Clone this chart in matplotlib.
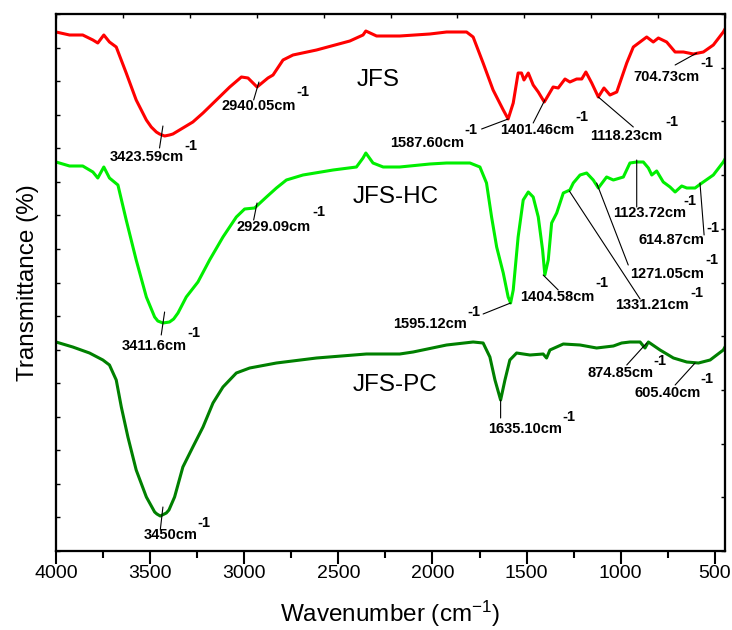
import matplotlib
matplotlib.use("Agg")
import matplotlib.pyplot as plt
import numpy as np

plt.rcParams['font.family'] = ['Liberation Sans', 'DejaVu Sans']
plt.rcParams['mathtext.default'] = 'regular'

# JFS (red)
wn_jfs = [4000, 3928, 3858, 3804, 3778, 3746, 3716, 3680, 3627, 3574, 3520, 3494, 3467, 3450, 3423,
          3397, 3379, 3326, 3273, 3219, 3148, 3077, 3015, 2980, 2932, 2874, 2847, 2794, 2741, 2616,
          2439, 2369, 2354, 2297, 2174, 2014, 1925, 1819, 1784, 1731, 1678, 1624, 1598, 1571, 1545,
          1527, 1514, 1491, 1465, 1438, 1406, 1359, 1332, 1296, 1270, 1234, 1207, 1185, 1154,
          1119, 1089, 1057, 1021, 968, 933, 862, 827, 800, 756, 711, 667, 614, 561, 508, 455, 446]
t_jfs = [519, 516, 516, 511, 508, 516, 509, 504, 478, 451, 431, 424, 419, 417, 415,
         416, 417, 423, 429, 438, 451, 464, 474, 473, 464, 473, 476, 491, 496, 501,
         510, 516, 520, 515, 515, 517, 519, 519, 514, 488, 461, 441, 432, 448, 478,
         478, 471, 478, 466, 459, 449, 464, 463, 472, 469, 472, 472, 479, 468,
         454, 463, 456, 459, 488, 504, 514, 509, 513, 509, 499, 499, 497, 499, 506, 519, 522]

# JFS-HC (bright green)
wn_hc = [4000, 3928, 3858, 3804, 3778, 3746, 3716, 3671, 3627, 3574, 3520, 3476, 3459, 3432, 3397,
         3375, 3352, 3308, 3246, 3184, 3113, 3042, 2998, 2945, 2882, 2829, 2776, 2688, 2528, 2404,
         2369, 2354, 2316, 2262, 2174, 2014, 1925, 1801, 1748, 1713, 1686, 1659, 1624, 1598,
         1585, 1571, 1545, 1518, 1491, 1465, 1438, 1415, 1403, 1385, 1367, 1340, 1305, 1270,
         1252, 1216, 1181, 1146, 1119, 1075, 1039, 986, 951, 915, 880, 853, 835, 809, 774,
         738, 711, 676, 649, 605, 569, 508, 455, 446]
t_hc = [389, 385, 385, 379, 373, 384, 373, 366, 331, 291, 254, 234, 230, 228, 229,
        232, 238, 254, 269, 291, 314, 334, 342, 343, 354, 363, 371, 376, 381, 384,
        393, 398, 388, 384, 384, 387, 388, 388, 384, 368, 334, 304, 278, 254,
        248, 261, 314, 351, 359, 354, 334, 301, 276, 291, 328, 338, 358, 361,
        368, 376, 378, 371, 363, 374, 371, 374, 388, 389, 389, 383, 376, 380, 369,
        364, 359, 365, 363, 363, 368, 376, 389, 392]

# JFS-PC (dark green)
wn_pc = [4000, 3911, 3822, 3751, 3716, 3680, 3653, 3618, 3574, 3520, 3476, 3464, 3446, 3414, 3400,
         3370, 3326, 3273, 3219, 3166, 3113, 3042, 2971, 2829, 2616, 2351, 2174, 2103, 1925, 1784,
         1731, 1695, 1668, 1638, 1615, 1589, 1553, 1482, 1412, 1394, 1376, 1305, 1216, 1128,
         1039, 995, 951, 897, 871, 853, 791, 720, 649, 587, 525, 455, 446]
t_pc = [209, 204, 198, 191, 186, 171, 144, 114, 81, 54, 39, 37, 35, 38, 41,
        54, 84, 104, 124, 148, 164, 178, 183, 188, 193, 197, 197, 199, 206, 209,
        208, 194, 171, 151, 171, 191, 198, 196, 197, 193, 201, 207, 206, 203,
        205, 208, 209, 209, 203, 209, 201, 193, 189, 188, 191, 201, 204]

# peak labels: text, label position, "-1" position, pointer start -> pointer end
labels = [
    ("3423.59cm", (3716, 394), (3317, 405), (3450, 403), (3432, 425)),
    ("2940.05cm", (3122, 445), (2721, 459), (2950, 451), (2922, 469)),
    ("1587.60cm", (2227, 408), (1828, 421), (1739, 422), (1598, 432)),
    ("1401.46cm", (1642, 421), (1243, 434), (1465, 428), (1403, 451)),
    ("1118.23cm", (1163, 415), (764, 429), (933, 424), (1119, 454)),
    ("704.73cm", (935, 474), (579, 488), (711, 486), (596, 498)),
    ("3411.6cm", (3653, 205), (3301, 218), (3441, 216), (3423, 239)),
    ("2929.09cm", (3042, 324), (2636, 339), (2950, 331), (2932, 348)),
    ("1595.12cm", (2211, 227), (1812, 239), (1731, 237), (1585, 248)),
    ("1404.58cm", (1536, 254), (1137, 268), (1332, 261), (1412, 276)),
    ("1331.21cm", (1030, 246), (632, 258), (897, 252), (1273, 360)),
    ("1271.05cm", (951, 277), (552, 291), (960, 286), (1128, 368)),
    ("1123.72cm", (1041, 338), (669, 350), (915, 344), (915, 391)),
    ("614.87cm", (908, 311), (547, 323), (557, 316), (579, 368)),
    ("3450cm", (3535, 16), (3248, 28), (3446, 21), (3432, 44)),
    ("1635.10cm", (1706, 122), (1308, 134), (1638, 133), (1638, 151)),
    ("874.85cm", (1179, 178), (828, 190), (968, 186), (862, 208)),
    ("605.40cm", (929, 158), (579, 172), (711, 166), (605, 188)),
]

names = [("JFS", (2402, 471)), ("JFS-HC", (2424, 354)), ("JFS-PC", (2424, 166))]

fig = plt.figure(figsize=(7.32, 6.30), dpi=100)
ax = fig.add_axes([56/732, 79/630, 669/732, 537/630])

ax.plot(wn_jfs, t_jfs, color='#ff0000', lw=2.2, solid_joinstyle='round')
ax.plot(wn_hc, t_hc, color='#00ee00', lw=2.2, solid_joinstyle='round')
ax.plot(wn_pc, t_pc, color='#008000', lw=2.2, solid_joinstyle='round')

for txt, pos, sup, p0, p1 in labels:
    ax.annotate('', xy=p1, xytext=p0,
                arrowprops=dict(arrowstyle='-', lw=0.8, color='black', shrinkA=0, shrinkB=0))
    ax.text(pos[0], pos[1], txt, fontsize=10.5, fontweight='bold', ha='left', va='center')
    ax.text(sup[0], sup[1], "-1", fontsize=10.5, fontweight='bold', ha='left', va='center')

for nm, pos in names:
    ax.text(pos[0], pos[1], nm, fontsize=17.5, ha='left', va='center')

ax.set_xlim(4000, 446)
ax.set_ylim(0, 537)
ax.set_xticks(np.arange(500, 4001, 500))
ax.set_xticks(np.arange(500, 4001, 250), minor=True)
ax.set_yticks(np.linspace(0, 537, 17))
ax.tick_params(axis='x', which='major', direction='out', length=9, width=1.5, labelsize=14, pad=1)
ax.tick_params(axis='x', which='minor', direction='out', length=5, width=1.5)
ax.tick_params(axis='y', direction='in', length=3, width=1, labelleft=False)
for s in ax.spines.values():
    s.set_linewidth(1.5)

axt = ax.twiny()
axt.set_xlim(0, 1)
axt.set_xticks(np.linspace(0, 1, 11))
axt.tick_params(axis='x', direction='in', length=3, width=1, labeltop=False)
axr = ax.twinx()
axr.set_ylim(0, 1)
axr.set_yticks(np.linspace(0, 1, 11))
axr.tick_params(axis='y', direction='in', length=3, width=1, labelright=False)
for a in (axt, axr):
    for s in a.spines.values():
        s.set_linewidth(1.5)

ax.set_xlabel('Wavenumber (cm$^{-1}$)', fontsize=17.5, labelpad=12)
ax.set_ylabel('Transmittance (%)', fontsize=17.5, labelpad=12)

fig.savefig('out.png', dpi=100)
